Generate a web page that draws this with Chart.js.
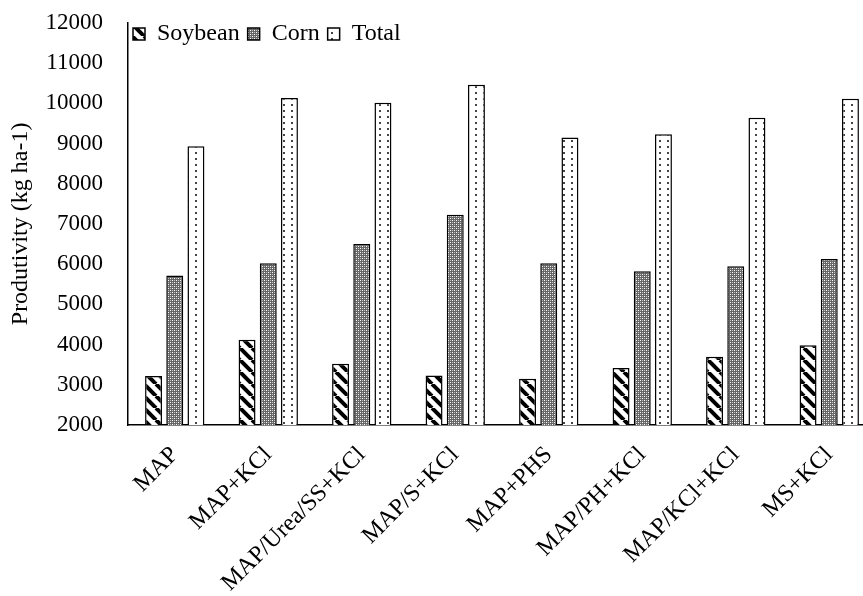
<!DOCTYPE html>
<html>
<head>
<meta charset="utf-8">
<script src="https://cdn.jsdelivr.net/npm/chart.js@4"></script>
<style>
    html, body { margin: 0; padding: 0; background: #fff; overflow: hidden; }
    #wrap { width: 876px; height: 596px; }
</style>
</head>
<body>
<div id="wrap"><canvas id="chart" width="876" height="596"></canvas></div>
<script>
const categories = ["MAP", "MAP+KCl", "MAP/Urea/SS+KCl", "MAP/S+KCl", "MAP+PHS", "MAP/PH+KCl", "MAP/KCl+KCl", "MS+KCl"];
const soybean = [3220, 4120, 3520, 3230, 3150, 3420, 3700, 3980];
const corn = [5720, 6020, 6500, 7230, 6020, 5820, 5950, 6130];
const total = [8930, 10130, 10010, 10460, 9150, 9230, 9640, 10110];
const yTicks = [2000, 3000, 4000, 5000, 6000, 7000, 8000, 9000, 10000, 11000, 12000];

// ================= PATTERNS =================
const makePattern = (w, h, draw) => {
    const c = document.createElement("canvas");
    c.width = w;
    c.height = h;
    const ctx = c.getContext("2d");
    draw(ctx);
    return ctx.createPattern(c, "repeat");
};

const stripes = makePattern(12, 12, (ctx) => {
    ctx.fillStyle = "#fff";
    ctx.fillRect(0, 0, 12, 12);
    ctx.strokeStyle = "#000";
    ctx.lineWidth = 4;
    for (const x of [-12, 0, 12]) {
        ctx.beginPath();
        ctx.moveTo(x, 0);
        ctx.lineTo(x + 12, 12);
        ctx.stroke();
    }
});

const hatch = makePattern(4, 4, (ctx) => {
    ctx.fillStyle = "#666";
    ctx.fillRect(0, 0, 4, 4);
    ctx.fillStyle = "#fff";
    ctx.fillRect(0, 0, 1, 1);
    ctx.fillRect(2, 2, 1, 1);
    ctx.fillStyle = "#c0c0c0";
    ctx.fillRect(2, 0, 1, 1);
    ctx.fillRect(0, 2, 1, 1);
});

const dots = makePattern(8, 6, (ctx) => {
    ctx.fillStyle = "#fff";
    ctx.fillRect(0, 0, 8, 6);
    ctx.fillStyle = "#444";
    ctx.fillRect(3, 2, 2, 2);
});

// legend sits inside the plot, top-left, like the original:
// it takes no room in the layout and is moved over the chart area
const legendInside = {
    id: "legendInside",
    beforeLayout(chart) {
        const lg = chart.legend;
        if (!lg || lg._inside) return;
        lg._inside = true;
        const fit = lg.fit.bind(lg);
        lg.fit = () => {
            fit();
            lg.height = 0;
        };
    },
    afterLayout(chart) {
        const lg = chart.legend;
        if (!lg) return;
        lg.left = chart.chartArea.left - 3;
        lg.right = chart.chartArea.right;
        lg.top = 14;
        lg.bottom = lg.top + 40;
    },
};

Chart.defaults.color = "#000";
Chart.defaults.font.family = "'Liberation Serif', 'Times New Roman', serif";
Chart.defaults.font.size = 24;

new Chart(document.getElementById("chart"), {
    type: "bar",
    data: {
        labels: categories,
        datasets: [
            { label: "Soybean", data: soybean, backgroundColor: stripes },
            { label: "Corn", data: corn, backgroundColor: hatch },
            { label: "Total", data: total, backgroundColor: dots },
        ],
    },
    plugins: [legendInside],
    options: {
        responsive: false,
        animation: false,
        layout: { padding: { top: 0, left: 4, right: 0, bottom: 0 } },
        datasets: {
            bar: {
                borderColor: "#000",
                borderWidth: 1.5,
                categoryPercentage: 0.68,
                barPercentage: 0.8,
            },
        },
        plugins: {
            tooltip: { enabled: false },
            legend: {
                position: "top",
                align: "start",
                labels: {
                    boxWidth: 12,
                    boxHeight: 12,
                    padding: 8,
                    font: { size: 24 },
                    color: "#000",
                },
            },
        },
        scales: {
            x: {
                grid: { display: false },
                border: { color: "#000", width: 1.5 },
                ticks: { minRotation: 45, maxRotation: 45, autoSkip: false, padding: 8 },
                afterFit: (scale) => { scale.height = 171; },
            },
            y: {
                min: 2000,
                max: 12000,
                grid: { display: false, tickLength: 16 },
                border: { color: "#000", width: 1.5 },
                afterBuildTicks: (scale) => {
                    scale.ticks = yTicks.map((v) => ({ value: v }));
                },
                ticks: { padding: 9, font: { size: 23 }, callback: (v) => String(v) },
                title: { display: true, text: "Produtivity (kg ha-1)", font: { size: 24 }, padding: 2 },
                afterFit: (scale) => { scale.width = 124; },
            },
        },
    },
});
</script>
</body>
</html>
